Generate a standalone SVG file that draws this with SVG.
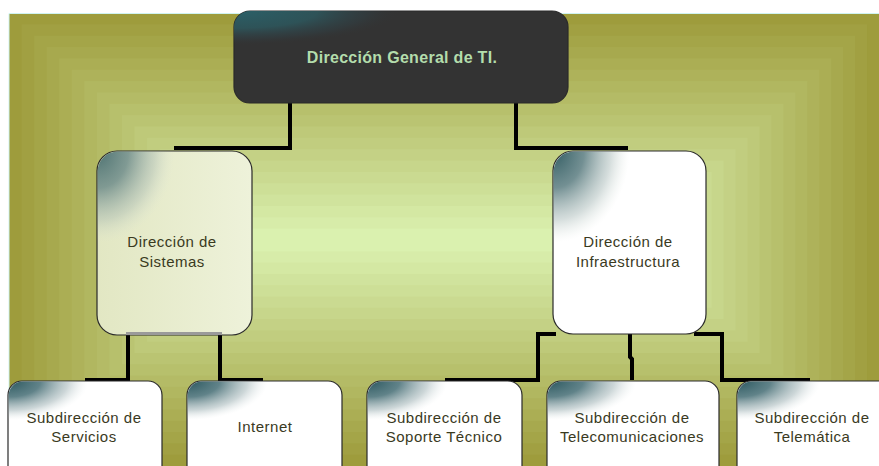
<svg xmlns="http://www.w3.org/2000/svg" width="879" height="466" viewBox="0 0 879 466">
  <defs>
    <!-- teal shading that spills out of the top-left corner of each box -->
    <radialGradient id="cornerShade" cx="0" cy="0" r="0.52" fx="0" fy="0" gradientTransform="scale(1 0.75)">
      <stop offset="0" stop-color="#2C585F" stop-opacity="1"/>
      <stop offset="0.4" stop-color="#4F757C" stop-opacity="0.9"/>
      <stop offset="0.75" stop-color="#9AAEB1" stop-opacity="0.5"/>
      <stop offset="1" stop-color="#DDE5E5" stop-opacity="0"/>
    </radialGradient>
    <radialGradient id="cornerShadeTall" cx="0" cy="0" r="0.5" fx="0" fy="0">
      <stop offset="0" stop-color="#335D63" stop-opacity="1"/>
      <stop offset="0.4" stop-color="#5A7C80" stop-opacity="0.85"/>
      <stop offset="0.75" stop-color="#A0B3B1" stop-opacity="0.45"/>
      <stop offset="1" stop-color="#D9E2DA" stop-opacity="0"/>
    </radialGradient>
    <radialGradient id="headShade" cx="0" cy="0" r="0.5" fx="0" fy="0" gradientTransform="scale(1 0.75)">
      <stop offset="0" stop-color="#2B6068" stop-opacity="1"/>
      <stop offset="0.5" stop-color="#2D585E" stop-opacity="0.85"/>
      <stop offset="0.8" stop-color="#30444A" stop-opacity="0.4"/>
      <stop offset="1" stop-color="#333333" stop-opacity="0"/>
    </radialGradient>
    <linearGradient id="creamFill" x1="0" y1="0" x2="1" y2="0">
      <stop offset="0" stop-color="#E2E7C3"/>
      <stop offset="1" stop-color="#EEF2DA"/>
    </linearGradient>
  </defs>
  <style>
    .label { font-family: "Liberation Sans", Arial, sans-serif; font-size: 15px; fill: #3A3A1E; text-anchor: middle; letter-spacing: 0.5px; }
    .head { font-family: "Liberation Sans", Arial, sans-serif; font-size: 16px; font-weight: bold; fill: #B3DDAC; text-anchor: middle; letter-spacing: 0.3px; }
    .box { stroke: #2A2A2A; stroke-width: 1.2; }
    .link { fill: none; stroke: #000000; stroke-width: 4; stroke-linejoin: miter; }
  </style>

  <!-- page and framed backdrop with stepped rectangular shading toward a bright horizontal core -->
  <rect x="0" y="0" width="879" height="466" fill="#FFFFFF"/>
  <g id="backdrop">
    <rect x="9" y="13" width="870" height="453" fill="#9E9C3C"/>
    <rect x="21.55" y="24.35" width="845.5" height="430.35" fill="#A1A042"/>
    <rect x="34.1" y="35.7" width="821" height="407.7" fill="#A4A548"/>
    <rect x="46.65" y="47.05" width="796.5" height="385.05" fill="#A7A94E"/>
    <rect x="59.2" y="58.4" width="772" height="362.4" fill="#ABAE54"/>
    <rect x="71.75" y="69.75" width="747.5" height="339.75" fill="#AEB25A"/>
    <rect x="84.3" y="81.1" width="723" height="317.1" fill="#B1B760"/>
    <rect x="96.85" y="92.45" width="698.5" height="294.45" fill="#B4BB66"/>
    <rect x="109.4" y="103.8" width="674" height="271.8" fill="#B7C06C"/>
    <rect x="121.95" y="115.15" width="649.5" height="249.15" fill="#BAC472"/>
    <rect x="134.5" y="126.5" width="625" height="226.5" fill="#BEC979"/>
    <rect x="147.05" y="137.85" width="600.5" height="203.85" fill="#C1CD7F"/>
    <rect x="159.6" y="149.2" width="576" height="181.2" fill="#C4D185"/>
    <rect x="172.15" y="160.55" width="551.5" height="158.55" fill="#C7D68B"/>
    <rect x="184.7" y="171.9" width="527" height="135.9" fill="#CADA91"/>
    <rect x="197.25" y="183.25" width="502.5" height="113.25" fill="#CDDF97"/>
    <rect x="209.8" y="194.6" width="478" height="90.6" fill="#D0E39D"/>
    <rect x="222.35" y="205.95" width="453.5" height="67.95" fill="#D4E8A3"/>
    <rect x="234.9" y="217.3" width="429" height="45.3" fill="#D7ECA9"/>
    <rect x="247.45" y="228.65" width="404.5" height="22.65" fill="#DAF1AF"/>
    <path d="M9,466 V13.5 H879" fill="none" stroke="#CFF3F0" stroke-width="1"/>
  </g>

  <!-- connectors -->
  <g id="connectors">
    <path class="link" d="M290,103 V148 H174"/>
    <path class="link" d="M516,103 V148 H628"/>
    <path class="link" d="M128,335 V380 H85"/>
    <path class="link" d="M220,335 V380 H263"/>
    <path class="link" d="M556,334 H538 V380 H445"/>
    <path class="link" d="M630,334 V357 L632,359 V380"/>
    <path class="link" d="M694,334 H722 V380 H810"/>
  </g>

  <g id="node-general">
    <rect class="box" x="234" y="11" width="334" height="92" rx="16" fill="#333333" stroke="#333333"/>
    <rect x="234" y="11" width="334" height="92" rx="16" fill="url(#headShade)"/>
    <text class="head" x="402" y="63">Dirección General de TI.</text>
  </g>

  <g id="node-sistemas">
    <rect class="box" x="97" y="151" width="155" height="184" rx="20" fill="url(#creamFill)"/>
    <rect x="97.6" y="151.6" width="153.8" height="182.8" rx="20" fill="url(#cornerShadeTall)" opacity="0.85"/>
    <line x1="126" y1="333.5" x2="222" y2="333.5" stroke="#9A9A9A" stroke-width="3"/>
    <text class="label" x="172" y="247">Dirección de</text>
    <text class="label" x="172" y="267">Sistemas</text>
  </g>

  <g id="node-infraestructura">
    <rect class="box" x="553" y="151" width="153" height="183" rx="20" fill="#FFFFFF"/>
    <rect x="553.6" y="151.6" width="151.8" height="181.8" rx="20" fill="url(#cornerShadeTall)"/>
    <text class="label" x="628" y="247">Dirección de</text>
    <text class="label" x="628" y="267">Infraestructura</text>
  </g>

  <g id="node-servicios">
    <rect class="box" x="8" y="381" width="154" height="100" rx="14" fill="#FFFFFF"/>
    <rect x="8.6" y="381.6" width="152.8" height="98.8" rx="14" fill="url(#cornerShade)"/>
    <text class="label" x="84" y="423">Subdirección de</text>
    <text class="label" x="84" y="442">Servicios</text>
  </g>

  <g id="node-internet">
    <rect class="box" x="187" y="381" width="155" height="100" rx="14" fill="#FFFFFF"/>
    <rect x="187.6" y="381.6" width="153.8" height="98.8" rx="14" fill="url(#cornerShade)"/>
    <text class="label" x="265" y="432">Internet</text>
  </g>

  <g id="node-soporte">
    <rect class="box" x="367" y="381" width="155" height="100" rx="14" fill="#FFFFFF"/>
    <rect x="367.6" y="381.6" width="153.8" height="98.8" rx="14" fill="url(#cornerShade)"/>
    <text class="label" x="444" y="423">Subdirección de</text>
    <text class="label" x="444" y="442">Soporte Técnico</text>
  </g>

  <g id="node-telecomunicaciones">
    <rect class="box" x="547" y="381" width="172" height="100" rx="14" fill="#FFFFFF"/>
    <rect x="547.6" y="381.6" width="170.8" height="98.8" rx="14" fill="url(#cornerShade)"/>
    <text class="label" x="632" y="423">Subdirección de</text>
    <text class="label" x="632" y="442">Telecomunicaciones</text>
  </g>

  <g id="node-telematica">
    <rect class="box" x="737" y="381" width="160" height="100" rx="14" fill="#FFFFFF"/>
    <rect x="737.6" y="381.6" width="158.8" height="98.8" rx="14" fill="url(#cornerShade)"/>
    <text class="label" x="812" y="423">Subdirección de</text>
    <text class="label" x="812" y="442">Telemática</text>
  </g>
</svg>
